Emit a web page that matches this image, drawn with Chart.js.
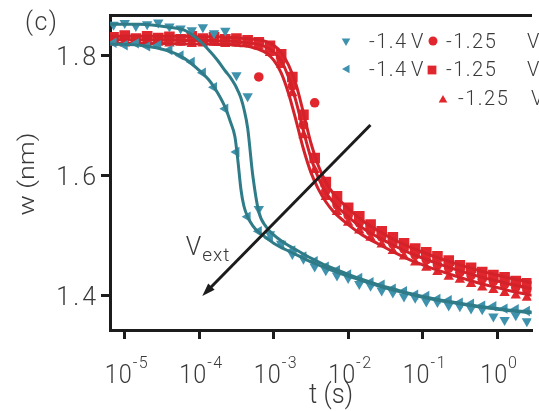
<!DOCTYPE html>
<html>
<head>
<meta charset="utf-8">
<script src="https://cdn.jsdelivr.net/npm/chart.js@4.4.1/dist/chart.umd.min.js"></script>
<style>
  html, body { margin: 0; padding: 0; background: #fff; overflow: hidden; }
  #wrap { width: 539px; height: 411px; }
</style>
</head>
<body>
<div id="wrap"><canvas id="chart" width="539" height="411"></canvas></div>
<script>
// 측정 시간 (마커용)
const tMarks = [7.08e-6, 1.00e-5, 1.41e-5, 2.00e-5, 2.82e-5, 3.98e-5, 5.62e-5, 7.94e-5, 1.12e-4, 1.58e-4,
  2.24e-4, 3.16e-4, 4.47e-4, 6.31e-4, 8.91e-4, 1.26e-3, 1.78e-3, 2.51e-3, 3.55e-3, 5.01e-3,
  7.08e-3, 1.00e-2, 1.41e-2, 2.00e-2, 2.82e-2, 3.98e-2, 5.62e-2, 7.94e-2, 0.112, 0.158,
  0.224, 0.316, 0.447, 0.631, 0.891, 1.26, 1.78, 2.51];

// -1.4 V (▼)
const wTealDown = [1.852, 1.855, 1.850, 1.853, 1.856, 1.849, 1.846, 1.843, 1.848, 1.838,
  1.842, 1.768, 1.733, 1.545, 1.503, 1.487, 1.470, 1.462, 1.449, 1.443,
  1.434, 1.430, 1.420, 1.417, 1.409, 1.406, 1.399, 1.397, 1.391, 1.390,
  1.384, 1.383, 1.379, 1.378, 1.366, 1.360, 1.368, 1.358];
// -1.4 V (◀)
const wTealLeft = [1.822, 1.818, 1.821, 1.816, 1.818, 1.810, 1.801, 1.790, 1.772, 1.748,
  1.712, 1.640, 1.532, 1.508, 1.496, 1.485, 1.476, 1.466, 1.458, 1.449,
  1.443, 1.436, 1.430, 1.423, 1.419, 1.412, 1.408, 1.402, 1.400, 1.395,
  1.393, 1.389, 1.387, 1.384, 1.383, 1.379, 1.378, 1.375];
// -1.25 V (●)
const wRedCircle = [1.826, 1.828, 1.825, 1.827, 1.826, 1.828, 1.825, 1.827, 1.826, 1.825,
  1.826, 1.824, 1.823, 1.765, 1.810, 1.792, 1.750, 1.685, 1.722, 1.575,
  1.552, 1.534, 1.522, 1.508, 1.498, 1.487, 1.478, 1.468, 1.460, 1.452,
  1.446, 1.439, 1.434, 1.428, 1.424, 1.419, 1.414, 1.410];
// -1.25 V (■)
const wRedSquare = [1.831, 1.834, 1.829, 1.833, 1.830, 1.832, 1.828, 1.833, 1.829, 1.831,
  1.828, 1.829, 1.826, 1.823, 1.817, 1.803, 1.765, 1.702, 1.630, 1.590,
  1.566, 1.547, 1.533, 1.519, 1.508, 1.498, 1.488, 1.479, 1.473, 1.466,
  1.459, 1.451, 1.447, 1.440, 1.435, 1.431, 1.425, 1.421];
// -1.25 V (▲)
const wRedTri = [1.822, 1.821, 1.823, 1.820, 1.822, 1.821, 1.822, 1.820, 1.821, 1.822,
  1.820, 1.821, 1.820, 1.816, 1.805, 1.785, 1.738, 1.668, 1.610, 1.565,
  1.540, 1.522, 1.509, 1.497, 1.486, 1.475, 1.466, 1.456, 1.447, 1.440,
  1.432, 1.427, 1.420, 1.414, 1.410, 1.405, 1.401, 1.397];

// 피팅 곡선용 시간
const tFit = [6.31e-6, 1.58e-5, 3.98e-5, 6.31e-5, 1.00e-4, 1.41e-4, 1.78e-4, 2.24e-4, 2.63e-4, 3.02e-4,
  3.31e-4, 3.63e-4, 3.98e-4, 4.47e-4, 5.25e-4, 6.31e-4, 7.94e-4, 1.00e-3, 1.26e-3, 1.58e-3,
  2.00e-3, 2.51e-3, 3.16e-3, 3.98e-3, 5.01e-3, 6.31e-3, 1.00e-2, 1.58e-2, 2.51e-2, 3.98e-2,
  6.31e-2, 0.100, 0.158, 0.251, 0.398, 0.631, 1.00, 1.58, 3.00];

const fitTealFast = [1.820, 1.818, 1.808, 1.796, 1.776, 1.757, 1.738, 1.714, 1.690, 1.665,
  1.625, 1.578, 1.550, 1.532, 1.517, 1.506, 1.497, 1.488, 1.481, 1.475,
  1.469, 1.463, 1.457, 1.452, 1.447, 1.442, 1.433, 1.425, 1.417, 1.410,
  1.404, 1.398, 1.393, 1.389, 1.385, 1.381, 1.378, 1.375, 1.372];
const fitTealSlow = [1.853, 1.853, 1.848, 1.843, 1.826, 1.807, 1.792, 1.775, 1.764, 1.752,
  1.742, 1.730, 1.712, 1.680, 1.600, 1.540, 1.515, 1.502, 1.492, 1.484,
  1.477, 1.470, 1.463, 1.457, 1.451, 1.446, 1.436, 1.427, 1.419, 1.412,
  1.405, 1.399, 1.394, 1.390, 1.386, 1.382, 1.379, 1.376, 1.373];
const fitRedA = [1.833, 1.833, 1.833, 1.833, 1.832, 1.832, 1.832, 1.831, 1.831, 1.831,
  1.830, 1.830, 1.829, 1.829, 1.828, 1.827, 1.824, 1.818, 1.806, 1.785,
  1.752, 1.705, 1.655, 1.617, 1.590, 1.571, 1.546, 1.525, 1.509, 1.495,
  1.483, 1.473, 1.464, 1.456, 1.448, 1.441, 1.435, 1.429, 1.422];
const fitRedB = [1.827, 1.827, 1.827, 1.826, 1.826, 1.826, 1.825, 1.825, 1.825, 1.824,
  1.824, 1.823, 1.823, 1.822, 1.821, 1.819, 1.815, 1.807, 1.792, 1.765,
  1.724, 1.675, 1.630, 1.597, 1.573, 1.556, 1.532, 1.513, 1.498, 1.485,
  1.473, 1.463, 1.454, 1.446, 1.438, 1.431, 1.425, 1.419, 1.412];
const fitRedC = [1.821, 1.821, 1.821, 1.820, 1.820, 1.820, 1.819, 1.819, 1.819, 1.818,
  1.818, 1.817, 1.817, 1.816, 1.814, 1.811, 1.805, 1.793, 1.772, 1.738,
  1.692, 1.645, 1.606, 1.578, 1.557, 1.541, 1.519, 1.501, 1.487, 1.474,
  1.462, 1.452, 1.443, 1.435, 1.427, 1.420, 1.414, 1.408, 1.401];

// 축 눈금
const xTicks = [1e-5, 1e-4, 1e-3, 1e-2, 1e-1, 1];
const yTicks = [1.4, 1.6, 1.8];
const yTickLabels = ['1.4', '1.6', '1.8'];
const legendValues = ['-1.4', '-1.4', '-1.25', '-1.25', '-1.25'];
const legendUnit = 'V';

// 화살표 (V_ext) - 데이터 좌표
const arrowFrom = { x: 1.99e-2, y: 1.685 };
const arrowTo = { x: 1.10e-4, y: 1.400 };
const vextAt = { x: 6.6e-5, y: 1.468 };

const TEAL = '#3f92ae';
const TEAL_LINE = '#2f7c88';
const RED = '#e1262d';
const RED_LINE = '#d3222a';
const AXIS = '#1c1c1c';
const TEXT = '#3a3a3a';
const FONT = 'Roboto, "Liberation Sans", Arial, sans-serif';
const WEIGHT = '300 ';

const pts = (xs, ys) => xs.map((x, i) => ({ x: x, y: ys[i] }));

function markerSet(label, ys, style, rot, r, color) {
    return {
        label: label, data: pts(tMarks, ys), showLine: false,
        pointStyle: style, rotation: rot, pointRadius: r,
        backgroundColor: color, borderWidth: 0, order: color === TEAL ? 2 : 4
    };
}
function fitSet(ys, color) {
    return {
        data: pts(tFit, ys), showLine: true, pointRadius: 0,
        borderColor: color, borderWidth: 3, cubicInterpolationMode: 'monotone',
        order: color === TEAL_LINE ? 1 : 3
    };
}

// 글자 간격/가로 비율을 조절해서 그리는 텍스트
function text(ctx, s, x, y, size, opt) {
    opt = opt || {};
    const sx = opt.sx || 1, ls = opt.ls || 0;
    ctx.save();
    ctx.font = WEIGHT + size + 'px ' + FONT;
    ctx.letterSpacing = ls + 'px';
    ctx.fillStyle = TEXT;
    ctx.textBaseline = 'alphabetic';
    ctx.textAlign = 'left';
    const w = (ctx.measureText(s).width - ls) * sx;
    let left = x;
    if (opt.align === 'right') left = x - w;
    if (opt.align === 'center') left = x - w / 2;
    ctx.translate(left, y);
    ctx.scale(sx, 1);
    ctx.fillText(s, 0, 0);
    ctx.restore();
    return w;
}
function textWidth(ctx, s, size, opt) {
    opt = opt || {};
    const sx = opt.sx || 1, ls = opt.ls || 0;
    ctx.save();
    ctx.font = WEIGHT + size + 'px ' + FONT;
    ctx.letterSpacing = ls + 'px';
    const w = (ctx.measureText(s).width - ls) * sx;
    ctx.restore();
    return w;
}

const decorations = {
    id: 'decorations',
    afterDatasetsDraw(chart) {
        const ctx = chart.ctx;
        const xs = chart.scales.x, ys = chart.scales.y;
        const x1 = xs.getPixelForValue(arrowFrom.x), y1 = ys.getPixelForValue(arrowFrom.y);
        const x2 = xs.getPixelForValue(arrowTo.x), y2 = ys.getPixelForValue(arrowTo.y);
        const ang = Math.atan2(y2 - y1, x2 - x1);
        const len = 13, half = 4.5;
        ctx.save();
        ctx.strokeStyle = AXIS;
        ctx.fillStyle = AXIS;
        ctx.lineWidth = 3;
        ctx.beginPath();
        ctx.moveTo(x1, y1);
        ctx.lineTo(x2 - Math.cos(ang) * len * 0.7, y2 - Math.sin(ang) * len * 0.7);
        ctx.stroke();
        ctx.beginPath();
        ctx.moveTo(x2, y2);
        ctx.lineTo(x2 - Math.cos(ang) * len + Math.sin(ang) * half, y2 - Math.sin(ang) * len - Math.cos(ang) * half);
        ctx.lineTo(x2 - Math.cos(ang) * len - Math.sin(ang) * half, y2 - Math.sin(ang) * len + Math.cos(ang) * half);
        ctx.closePath();
        ctx.fill();
        ctx.restore();
    },
    afterDraw(chart) {
        const ctx = chart.ctx;
        const xs = chart.scales.x, ys = chart.scales.y;

        // x 눈금 라벨 10^n
        const baseOpt = { sx: 0.9, ls: 1 }, supOpt = { ls: 1.5 };
        xTicks.forEach(v => {
            const px = xs.getPixelForValue(v);
            const e = String(Math.round(Math.log10(v)));
            const wb = textWidth(ctx, '10', 26, baseOpt), we = textWidth(ctx, e, 16, supOpt);
            const left = px - (wb + we) / 2 + 1;
            text(ctx, '10', left, 383, 26, baseOpt);
            text(ctx, e, left + wb + 1, 368, 16, supOpt);
        });
        // y 눈금 라벨
        yTicks.forEach((v, i) => {
            text(ctx, yTickLabels[i], 96, ys.getPixelForValue(v) + 9, 25, { align: 'right', ls: 3 });
        });

        // 축 제목
        text(ctx, 't (s)', 331, 403, 27, { align: 'center', sx: 0.95 });
        ctx.save();
        ctx.translate(28, 174);
        ctx.rotate(-Math.PI / 2);
        ctx.scale(1, 0.85);
        ctx.font = WEIGHT + '27px ' + FONT;
        ctx.fillStyle = TEXT;
        ctx.textAlign = 'center';
        ctx.textBaseline = 'middle';
        ctx.fillText('w (nm)', 0, 0);
        ctx.restore();

        text(ctx, '(c)', 25, 30, 25, { ls: 1.5 });

        // V_ext
        const vx = xs.getPixelForValue(vextAt.x), vy = ys.getPixelForValue(vextAt.y);
        const vw = text(ctx, 'V', vx, vy, 25);
        text(ctx, 'ext', vx + vw + 1, vy + 6, 19, { ls: 1 });

        // 범례
        const items = [
            { style: 'triangle', rot: 180, r: 5, color: TEAL, mx: 346, my: 41, tx: 369, ux: 411, ty: 48 },
            { style: 'triangle', rot: 270, r: 5, color: TEAL, mx: 347, my: 69, tx: 369, ux: 411, ty: 76 },
            { style: 'circle', rot: 0, r: 4.5, color: RED, mx: 433, my: 41, tx: 446, ux: 527, ty: 48 },
            { style: 'rect', rot: 0, r: 6.2, color: RED, mx: 432, my: 70, tx: 446, ux: 527, ty: 76 },
            { style: 'triangle', rot: 0, r: 5, color: RED, mx: 443, my: 100, tx: 458, ux: 531, ty: 105 }
        ];
        items.forEach((it, i) => {
            ctx.save();
            ctx.fillStyle = it.color;
            Chart.helpers.drawPoint(ctx, { pointStyle: it.style, rotation: it.rot, radius: it.r, borderWidth: 0 }, it.mx, it.my);
            ctx.restore();
            text(ctx, legendValues[i], it.tx, it.ty, 20, { ls: 1.5 });
            text(ctx, legendUnit, it.ux, it.ty, 20);
        });
    }
};

const axisGrid = { display: true, drawOnChartArea: false, drawTicks: true, tickLength: 9, lineWidth: 3, color: AXIS };
const axisBorder = { display: true, width: 3, color: AXIS };

new Chart(document.getElementById('chart'), {
    type: 'scatter',
    data: {
        datasets: [
            fitSet(fitTealFast, TEAL_LINE),
            fitSet(fitTealSlow, TEAL_LINE),
            markerSet('-1.4 V', wTealDown, 'triangle', 180, 6, TEAL),
            markerSet('-1.4 V', wTealLeft, 'triangle', 270, 6, TEAL),
            fitSet(fitRedA, RED_LINE),
            fitSet(fitRedB, RED_LINE),
            fitSet(fitRedC, RED_LINE),
            markerSet('-1.25 V', wRedCircle, 'circle', 0, 4.8, RED),
            markerSet('-1.25 V', wRedSquare, 'rect', 0, 7.5, RED),
            markerSet('-1.25 V', wRedTri, 'triangle', 0, 6, RED)
        ]
    },
    options: {
        responsive: false,
        devicePixelRatio: 1,
        animation: false,
        events: [],
        layout: { padding: { top: 15, left: 0, right: 0, bottom: 0 } },
        plugins: { legend: { display: false }, tooltip: { enabled: false } },
        scales: {
            x: {
                type: 'logarithmic', position: 'bottom',
                min: 6.34e-6, max: 2.895,
                afterBuildTicks: s => { s.ticks = xTicks.map(v => ({ value: v })); },
                afterFit: s => { s.height = 81; },
                ticks: { display: false },
                grid: axisGrid, border: axisBorder
            },
            xTop: {
                type: 'linear', position: 'top',
                ticks: { display: false },
                grid: { display: false },
                border: axisBorder,
                afterFit: s => { s.height = 0; }
            },
            y: {
                type: 'linear', position: 'left',
                min: 1.3433, max: 1.8683,
                afterBuildTicks: s => { s.ticks = yTicks.map(v => ({ value: v })); },
                afterFit: s => { s.width = 110; },
                ticks: { display: false },
                grid: axisGrid, border: axisBorder
            }
        }
    },
    plugins: [decorations]
});
</script>
</body>
</html>
